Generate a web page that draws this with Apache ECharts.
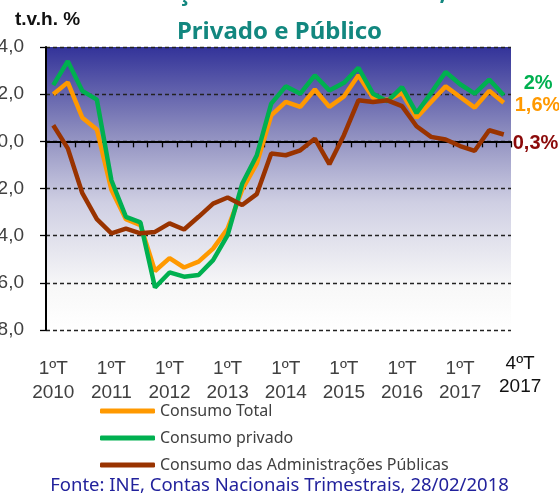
<!DOCTYPE html>
<html>
<head>
<meta charset="utf-8">
<script src="https://cdn.jsdelivr.net/npm/echarts@6/dist/echarts.min.js"></script>
<style>
  html, body { margin: 0; padding: 0; background: #fff; }
  #chart { width: 559px; height: 496px; }
</style>
</head>
<body>
<div id="chart"></div>
<script>
// quarters 2010 Q1 .. 2017 Q4
const years = [2010, 2011, 2012, 2013, 2014, 2015, 2016, 2017]
const quarters = ['1ºT', '2ºT', '3ºT', '4ºT']
const categories = []
years.forEach(y => quarters.forEach(q => categories.push(q + '\n' + y)))

// t.v.h. %
const consumoTotal = [
  2.0, 2.5, 1.0, 0.5, -2.05, -3.3, -3.55, -5.5,
  -4.95, -5.35, -5.1, -4.55, -3.7, -2.05, -0.95, 1.1,
  1.67, 1.46, 2.2, 1.46, 1.9, 2.8, 1.85, 1.75,
  2.05, 1.0, 1.67, 2.33, 1.88, 1.43, 2.14, 1.64
]
const consumoPrivado = [
  2.38, 3.4, 2.14, 1.77, -1.65, -3.2, -3.44, -6.2,
  -5.56, -5.74, -5.67, -5.04, -3.98, -1.8, -0.6, 1.6,
  2.33, 2.02, 2.8, 2.16, 2.48, 3.12, 2.02, 1.7,
  2.3, 1.2, 2.05, 2.94, 2.42, 2.02, 2.62, 1.95
]
const consumoAP = [
  0.68, -0.3, -2.2, -3.3, -3.9, -3.7, -3.9, -3.84,
  -3.48, -3.74, -3.2, -2.64, -2.38, -2.7, -2.24, -0.52,
  -0.59, -0.38, 0.11, -0.97, 0.26, 1.74, 1.67, 1.74,
  1.49, 0.64, 0.19, 0.08, -0.2, -0.4, 0.47, 0.29
]
const seriesNames = ['Consumo Total', 'Consumo privado', 'Consumo das Administrações Públicas']
const endLabels = ['1,6%', '2%', '0,3%']

const chart = echarts.init(document.getElementById('chart'))

function lineSeries(name, data, color, labelColor, text, dist, dy) {
  return {
    name, type: 'line', data,
    symbol: 'none',
    lineStyle: { color, width: 4.5 },
    itemStyle: { color },
    endLabel: {
      show: true, formatter: text, distance: dist, offset: [0, dy],
      color: labelColor, fontSize: 20, fontWeight: 'bold', fontFamily: 'Liberation Sans, Arial'
    },
    animation: false,
  }
}

chart.setOption({
  animation: false,
  title: [{
    text: 'Evolução do Consumo Total,\nPrivado e Público',
    left: 'center', top: -31,
    textStyle: { color: '#12877f', fontSize: 24, fontWeight: 'bold', lineHeight: 39, fontFamily: 'Noto Sans' },
  }, {
    text: 'Fonte: INE, Contas Nacionais Trimestrais, 28/02/2018',
    left: 'center', top: 471,
    textStyle: { color: '#22229c', fontSize: 18.5, fontWeight: 'normal', fontFamily: 'Noto Sans' },
  }],
  graphic: [{
    type: 'text', left: 15, top: 10,
    style: { text: 't.v.h. %', fill: '#111', font: 'bold 19px Liberation Sans, Arial' },
  }, {
    type: 'text', left: 499, top: 352,
    style: { text: '4ºT\n2017', fill: '#111', font: '19px Liberation Sans, Arial', textAlign: 'center', lineHeight: 23, align: 'center' },
  }],
  legend: {
    orient: 'vertical', left: 100, top: 403, padding: 0,
    itemWidth: 55, itemHeight: 5, itemGap: 11,
    icon: 'roundRect',
    data: seriesNames,
    textStyle: { color: '#404040', fontSize: 16, fontFamily: 'Noto Sans', padding: [0, 0, 0, 0] },
  },
  grid: {
    left: 46, right: 48, top: 47, bottom: 166,
    outerBoundsMode: 'none', containLabel: false,
    show: true, borderWidth: 0,
    backgroundColor: {
      type: 'linear', x: 0, y: 0, x2: 0, y2: 1,
      colorStops: [
        { offset: 0, color: '#333399' },
        { offset: 0.3, color: '#8c8cbe' },
        { offset: 0.55, color: '#cfcfe3' },
        { offset: 0.85, color: '#f8f8f8' },
        { offset: 1, color: '#ffffff' },
      ],
    },
  },
  xAxis: {
    type: 'category', data: categories, boundaryGap: true,
    axisLine: { lineStyle: { color: '#000', width: 2 } },
    axisTick: { show: true, interval: 0, length: 6, lineStyle: { color: '#000', width: 1.3 } },
    axisLabel: {
      interval: (i) => i % 4 === 0,
      formatter: (v, i) => (i % 4 === 0 ? v : ''),
      color: '#404040', fontSize: 19, lineHeight: 24, margin: 27,
      fontFamily: 'Liberation Sans, Arial',
    },
    splitLine: { show: false },
  },
  yAxis: {
    type: 'value', min: -8, max: 4, interval: 2,
    axisLine: { show: true, lineStyle: { color: '#000', width: 2 } },
    axisTick: { show: true, length: 6, lineStyle: { color: '#000', width: 1.3 } },
    axisLabel: {
      formatter: v => v.toFixed(1).replace('.', ','),
      color: '#404040', fontSize: 19, margin: 22, fontFamily: 'Liberation Sans, Arial',
    },
    splitLine: { lineStyle: { color: '#222', width: 1.3, type: [4, 3] } },
  },
  series: [
    lineSeries(seriesNames[0], consumoTotal, '#ff9900', '#ff9900', endLabels[0], 11, 3),
    lineSeries(seriesNames[1], consumoPrivado, '#00b050', '#00b050', endLabels[1], 20, -12),
    lineSeries(seriesNames[2], consumoAP, '#993300', '#8b0a0a', endLabels[2], 9, 9),
  ],
})
</script>
</body>
</html>
